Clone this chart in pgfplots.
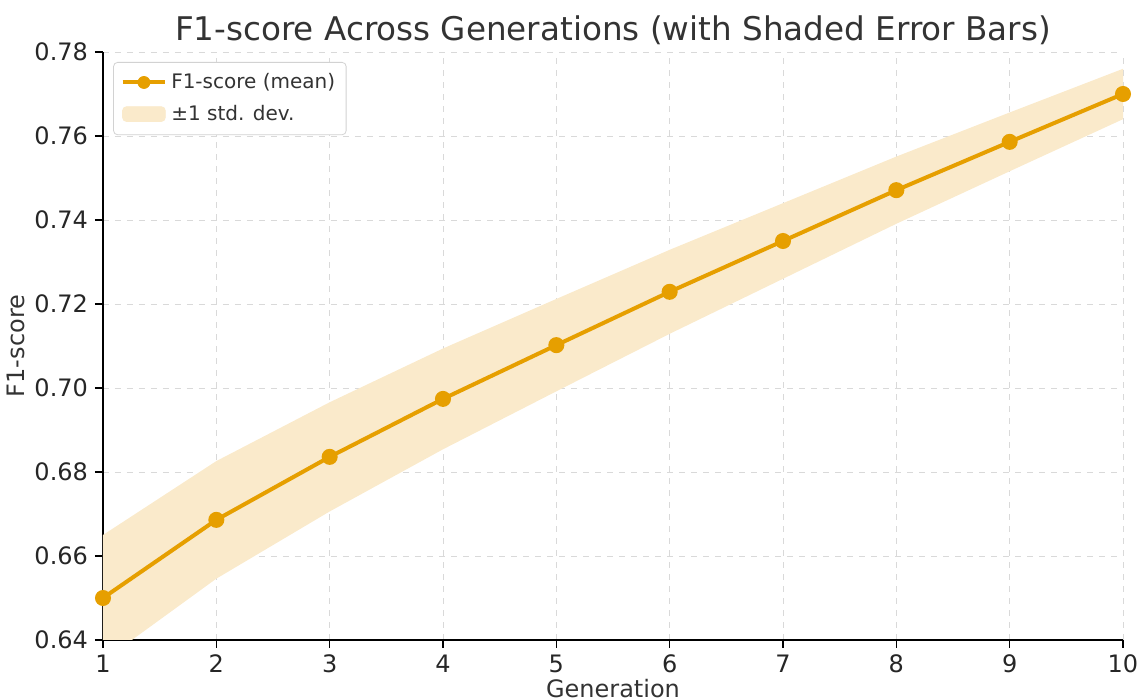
\documentclass[border=0pt]{standalone}
\usepackage{pgfplots}
\pgfplotsset{compat=1.18}
\usepackage{fontspec}
\setmainfont{DejaVu Sans}
\definecolor{lineor}{HTML}{E69F00}
\definecolor{bandor}{HTML}{FAEACB}
\definecolor{txt}{HTML}{333333}
\begin{document}
\begin{tikzpicture}
\begin{axis}[
  scale only axis,
  width=510pt, height=294pt,
  xmin=1, xmax=10, ymin=0.64, ymax=0.78,
  xtick={1,...,10},
  ytick={0.64,0.66,...,0.78},
  axis x line*=bottom, axis y line*=left,
  axis line style={line width=0.8pt, -},
  tick align=outside,
  major tick length=4pt,
  tick style={line width=0.7pt, black},
  grid=major,
  major grid style={dashed, line width=0.4pt, gray!30},
  /pgf/number format/assume math mode=true,
  yticklabel style={/pgf/number format/.cd, fixed, fixed zerofill, precision=2},
  ticklabel style={font=\fontsize{12}{14}\selectfont, text=black!85},
  title={F1-score Across Generations (with Shaded Error Bars)},
  title style={font=\fontsize{16.3}{19}\selectfont, text=txt, yshift=-6pt},
  xlabel={Generation},
  ylabel={F1-score},
  label style={font=\fontsize{12}{14}\selectfont, text=txt},
  xlabel style={yshift=4pt},
  ylabel style={yshift=-2pt},
  legend style={at={(0.01,0.983)}, anchor=north west, draw=gray!35, rounded corners=2pt,
    font=\fontsize{10}{12}\selectfont, text=txt, inner sep=3.5pt, row sep=3pt},
  legend cell align=left,
]
\addlegendimage{legend image code/.code={\draw[lineor, line width=2pt] (0cm,0cm) -- (0.75cm,0cm); \fill[lineor] (0.375cm,0cm) circle (3pt);}}
\addlegendentry{F1-score (mean)}
\addlegendimage{legend image code/.code={\fill[bandor] (0cm,-0.12cm) rectangle (0.75cm,0.14cm);}}
\addlegendentry{±1 std. dev.}
\addplot[fill=bandor, draw=none, forget plot] coordinates {
(1,0.665) (2,0.6826) (3,0.6966) (4,0.7094) (5,0.7212) (6,0.7329) (7,0.744) (8,0.7551) (9,0.7656) (10,0.776)
(10,0.764) (9,0.7516) (8,0.7391) (7,0.726) (6,0.7129) (5,0.6992) (4,0.6854) (3,0.6706) (2,0.6546) (1,0.635)
} -- cycle;
\addplot[lineor, line width=2pt, mark=*, mark size=3pt, forget plot] coordinates {
(1,0.650) (2,0.6686) (3,0.6836) (4,0.6974) (5,0.7102) (6,0.7229) (7,0.7350) (8,0.7471) (9,0.7586) (10,0.7700)
};
\end{axis}
\pgfresetboundingbox
\path[use as bounding box] (-51.5pt,-29.5pt) rectangle (517pt,320pt);
\end{tikzpicture}
\end{document}
